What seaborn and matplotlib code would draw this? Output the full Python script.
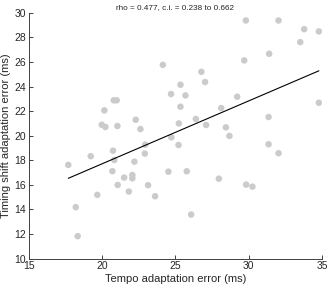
import matplotlib
matplotlib.use("Agg")
import matplotlib.pyplot as plt
import seaborn as sns
import numpy as np
import pandas as pd

tempo_err = [29.81, 32.04, 33.79, 34.79, 33.52, 31.40, 29.70, 24.15, 26.78, 27.03,
             25.35, 24.71, 25.69, 29.22, 20.80, 21.00, 20.16, 25.35, 28.13, 34.79,
             22.30, 26.40, 31.36, 19.98, 20.23, 21.05, 22.62, 25.24, 27.10, 28.45,
             24.73, 28.69, 22.95, 25.22, 31.36, 17.70, 18.21, 18.34, 19.23, 19.68,
             20.75, 20.84, 20.71, 21.07, 21.51, 21.83, 22.07, 22.07, 22.21, 22.92,
             23.14, 23.62, 24.53, 25.78, 26.08, 27.97, 29.83, 30.26, 32.04]
timing_err = [29.38, 29.38, 28.67, 28.49, 27.62, 26.67, 26.13, 25.77, 25.20, 24.37,
              24.15, 23.39, 23.28, 23.17, 22.88, 22.88, 22.06, 22.36, 22.25, 22.68,
              21.30, 21.36, 21.52, 20.89, 20.71, 20.79, 20.54, 21.00, 20.87, 20.68,
              19.87, 19.98, 19.27, 19.24, 19.30, 17.62, 14.18, 11.82, 18.33, 15.18,
              18.78, 18.02, 17.11, 15.99, 16.59, 15.45, 16.80, 16.53, 17.89, 18.54,
              15.97, 15.07, 17.07, 17.10, 13.58, 16.50, 16.02, 15.85, 18.57]

title_text = "rho = 0.477, c.i. = 0.238 to 0.662"
x_label = "Tempo adaptation error (ms)"
y_label = "Timing shift adaptation error (ms)"
x_ticks = [15, 20, 25, 30, 35]
y_ticks = [10, 12, 14, 16, 18, 20, 22, 24, 26, 28, 30]

df = pd.DataFrame({"tempo": tempo_err, "timing": timing_err})

sns.set_style("ticks")
plt.rcParams['font.family'] = ['Liberation Sans', 'DejaVu Sans']

fig = plt.figure(figsize=(3.28, 2.90), dpi=100)
ax = fig.add_axes([0.0875, 0.1086, 0.894, 0.847])

sns.regplot(data=df, x="tempo", y="timing", ax=ax, ci=None, truncate=True,
            scatter_kws=dict(s=22, color="#cbcbcb", edgecolor="none", alpha=1),
            line_kws=dict(color="black", lw=0.8))

ax.set_xlim(15, 35)
ax.set_ylim(10, 30)
ax.set_xticks(x_ticks)
ax.set_yticks(y_ticks)
ax.tick_params(direction="in", length=3, width=0.7, colors="#404040", labelsize=7.5, pad=2)
for lab in ax.get_xticklabels() + ax.get_yticklabels():
    lab.set_color("#262626")
for s in ["left", "bottom"]:
    ax.spines[s].set_color("#404040")
    ax.spines[s].set_linewidth(0.7)
sns.despine(ax=ax)
ax.set_xlabel(x_label, fontsize=8, color="#262626", labelpad=2)
ax.set_ylabel(y_label, fontsize=8, color="#262626", labelpad=2)
ax.set_title(title_text, fontsize=5.9, color="#262626", pad=3)

fig.savefig("out.png", dpi=100)
